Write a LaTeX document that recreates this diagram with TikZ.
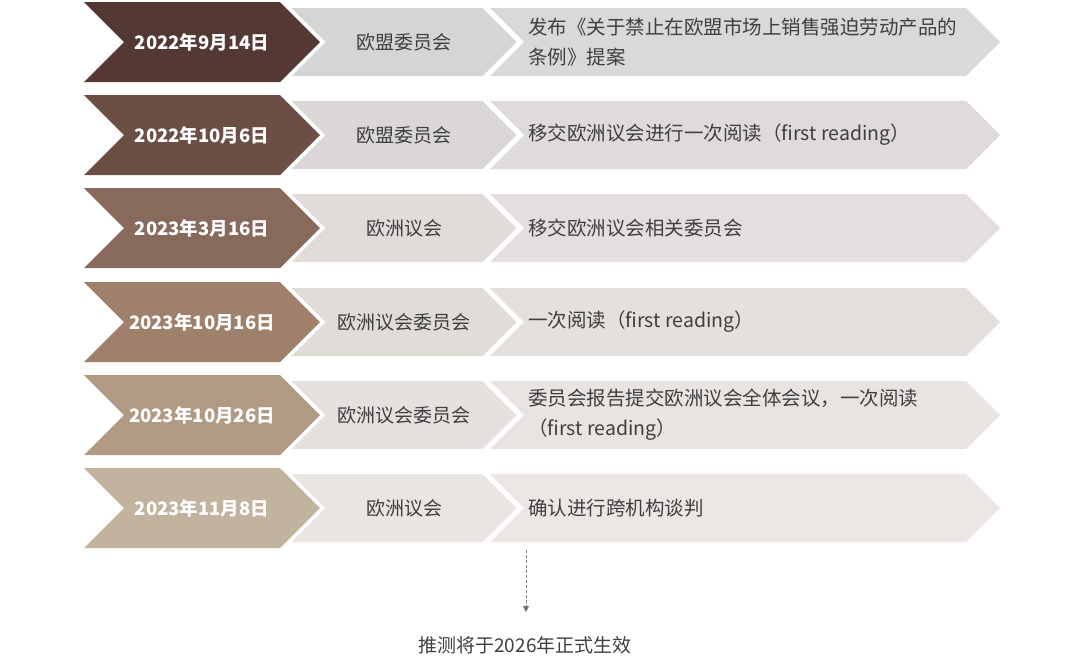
\documentclass[tikz,border=0pt]{standalone}
\usepackage{fontspec}
\setmainfont{Noto Sans CJK SC}
\usetikzlibrary{shapes.symbols,arrows.meta,positioning}
\definecolor{dateA}{HTML}{543833}
\definecolor{dateB}{HTML}{6B4F45}
\definecolor{dateC}{HTML}{876A5C}
\definecolor{dateD}{HTML}{9E806B}
\definecolor{dateE}{HTML}{B09A84}
\definecolor{dateF}{HTML}{C2B39F}
\definecolor{bodyA}{HTML}{D6D5D4}
\definecolor{bodyB}{HTML}{DAD7D6}
\definecolor{bodyC}{HTML}{E1DBDA}
\definecolor{bodyD}{HTML}{E0DDD9}
\definecolor{bodyE}{HTML}{E6E1DF}
\definecolor{bodyF}{HTML}{EAE4E2}
\definecolor{textgray}{HTML}{3F3F3F}
\tikzset{
  chev/.style={signal,signal to=east,signal from=west,signal pointer angle=90,
    inner sep=0pt,draw=none},
  datechev/.style={chev,minimum width=236pt,minimum height=80pt,text=white,
    font=\fontsize{18.5}{22}\selectfont\bfseries},
  bodychev/.style={chev,minimum height=68pt,text=textgray,
    font=\fontsize{19}{22}\selectfont},
  desc/.style={anchor=west,align=left,text=textgray,inner sep=0pt,
    font=\fontsize{19.5}{30}\selectfont}
}
\begin{document}
\begin{tikzpicture}[x=1pt,y=-1pt]
\useasboundingbox (0,0) rectangle (1080,670);
\foreach \n/\y/\c/\b/\d/\who/\what in {
  1/42/dateA/bodyA/2022年9月14日/欧盟委员会/{发布《关于禁止在欧盟市场上销售强迫劳动产品的\\条例》提案},
  2/135/dateB/bodyB/2022年10月6日/欧盟委员会/{移交欧洲议会进行一次阅读（first reading）},
  3/228/dateC/bodyC/2023年3月16日/欧洲议会/{移交欧洲议会相关委员会},
  4/322/dateD/bodyD/2023年10月16日/欧洲议会委员会/{一次阅读（first reading）},
  5/415/dateE/bodyE/2023年10月26日/欧洲议会委员会/{委员会报告提交欧洲议会全体会议，一次阅读\\（first reading）},
  6/508/dateF/bodyF/2023年11月8日/欧洲议会/{确认进行跨机构谈判}}{
  \node[datechev,fill=\c] (date\n) at (202,\y) {\d};
  \node[bodychev,fill=\b,minimum width=225pt] (who\n) at (404,\y) {\who};
  \node[bodychev,fill=\b!90!white,minimum width=510pt] (what\n) at (745,\y) {};
  \node[desc] (text\n) at (528,\y) {\what};
}
\coordinate (drop) at (526,550);
\node[text=textgray,font=\fontsize{19}{22}\selectfont] (result) at (525,645) {推测将于2026年正式生效};
\draw[densely dashed,gray,-{Triangle[length=6pt,width=6pt,fill=dateC]}] (drop) -- (526,612);
\end{tikzpicture}
\end{document}
